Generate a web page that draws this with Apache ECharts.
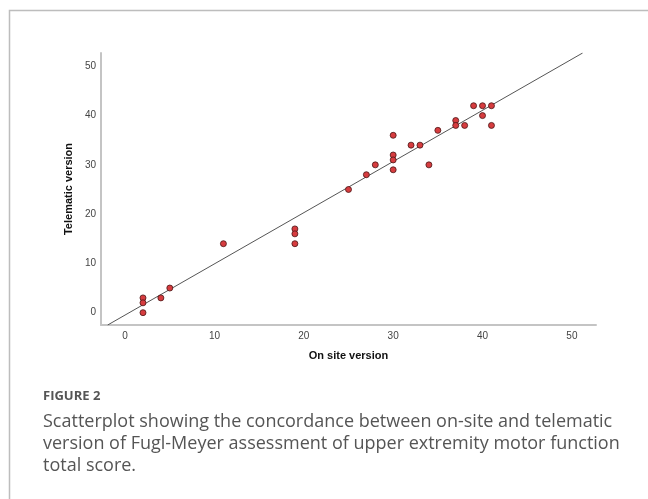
<!DOCTYPE html>
<html>
<head>
<meta charset="utf-8">
<script src="https://cdn.jsdelivr.net/npm/echarts@6/dist/echarts.min.js"></script>
<style>
  html, body { margin: 0; padding: 0; background: #fff; }
  #main { width: 648px; height: 499px; }
</style>
</head>
<body>
<div id="main"></div>
<script>
// on site score vs telematic score
var onSite = [2, 2, 2, 4, 5, 11, 19, 19, 19, 25, 27, 28, 30, 30, 30, 30, 32, 33, 34, 35, 37, 37, 38, 39, 40, 40, 41, 41];
var telematic = [3, 2, 0, 3, 5, 14, 17, 16, 14, 25, 28, 30, 36, 32, 31, 29, 34, 34, 30, 37, 39, 38, 38, 42, 42, 40, 42, 38];
// fit line end points (x, y)
var fitX = [-1.95, 51.2];
var fitY = [-2.5, 52.7];
var tickValues = [0, 10, 20, 30, 40, 50];

var chart = echarts.init(document.getElementById('main'));

var points = [];
for (var i = 0; i < onSite.length; i++) {
  points.push([onSite[i], telematic[i]]);
}
var line = [];
for (var j = 0; j < fitX.length; j++) {
  line.push([fitX[j], fitY[j]]);
}

var axisText = { color: '#444', fontSize: 10, fontFamily: 'Liberation Sans' };
var nameText = { color: '#111', fontSize: 11, fontWeight: 'bold', fontFamily: 'Liberation Sans' };

var option = {
  animation: false,
  backgroundColor: '#fff',
  grid: { left: 101, top: 53, right: 52, bottom: 174 },
  xAxis: {
    type: 'value',
    min: -2.7,
    max: 52.7,
    name: 'On site version',
    nameLocation: 'middle',
    nameGap: 25,
    nameTextStyle: nameText,
    axisLine: { show: true, onZero: false, lineStyle: { color: '#c4c4c4', width: 2 } },
    axisTick: { show: false },
    splitLine: { show: false },
    axisLabel: Object.assign({ margin: 6, customValues: tickValues }, axisText)
  },
  yAxis: {
    type: 'value',
    min: -2.5,
    max: 52.7,
    name: 'Telematic version',
    nameLocation: 'middle',
    nameGap: 24,
    nameTextStyle: nameText,
    axisLine: { show: true, onZero: false, lineStyle: { color: '#c4c4c4', width: 2 } },
    axisTick: { show: false },
    splitLine: { show: false },
    axisLabel: Object.assign({ margin: 5, customValues: tickValues }, axisText)
  },
  series: [
    {
      type: 'line',
      data: line,
      symbol: 'none',
      silent: true,
      lineStyle: { color: '#555', width: 1 },
      z: 1
    },
    {
      type: 'scatter',
      data: points,
      symbolSize: 6,
      itemStyle: { color: '#d63c3f', borderColor: '#4a1515', borderWidth: 0.8, opacity: 1 },
      z: 2
    }
  ],
  graphic: [
    {
      type: 'rect',
      shape: { x: 9.5, y: 10.5, width: 700, height: 600 },
      style: { fill: 'none', stroke: '#bdbdbd', lineWidth: 1.5 },
      silent: true
    },
    {
      type: 'text',
      left: 43,
      top: 390,
      style: { text: 'FIGURE 2', fill: '#555', fontSize: 13, fontWeight: 'bold', fontFamily: 'Open Sans' }
    },
    {
      type: 'text',
      left: 43,
      top: 411,
      style: {
        text: 'Scatterplot showing the concordance between on-site and telematic\nversion of Fugl-Meyer assessment of upper extremity motor function\ntotal score.',
        fill: '#555',
        fontSize: 18,
        lineHeight: 22,
        fontFamily: 'Open Sans'
      }
    }
  ]
};

chart.setOption(option);
</script>
</body>
</html>
